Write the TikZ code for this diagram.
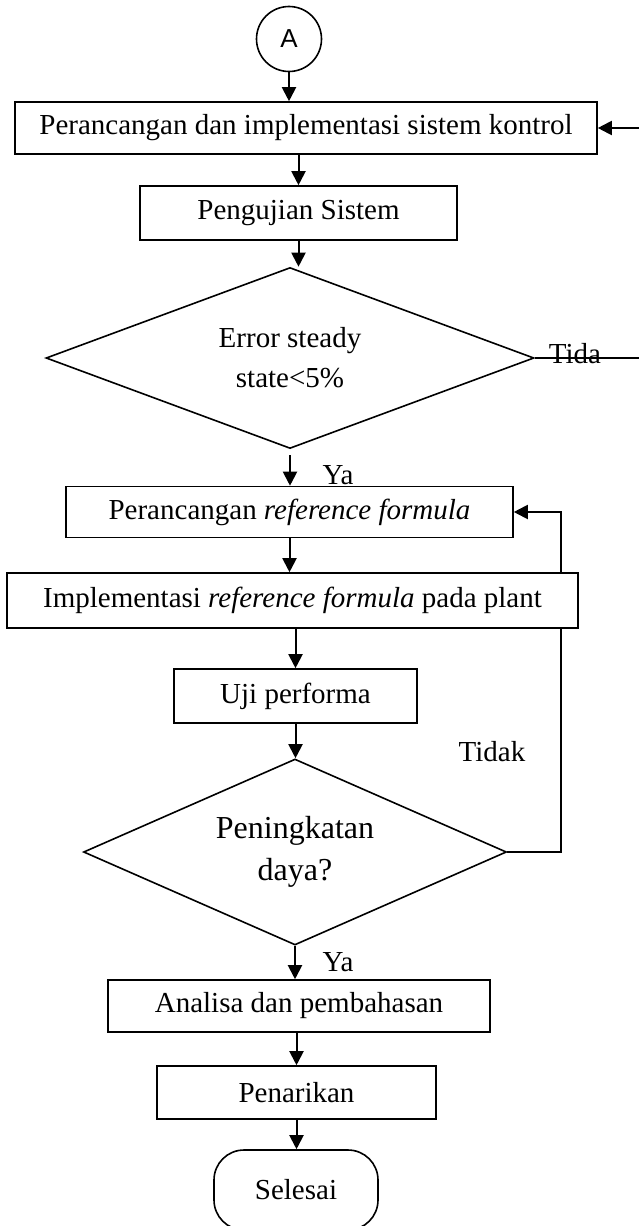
\documentclass[tikz,border=0pt]{standalone}
\usepackage{fontspec}
\setmainfont{Liberation Serif}
\newfontfamily\labelsans{Liberation Sans}
\usepackage{tikz}
\usetikzlibrary{positioning,shapes.geometric,arrows.meta,backgrounds}
\tikzset{
    flowbox/.style={rectangle, draw=black, line width=0.8pt, fill=white, inner sep=0pt, font=\fontsize{14.5}{17}\selectfont},
    flowarrow/.style={draw=black, line width=1pt, -{Triangle[length=7pt,width=7pt]}}
}

\begin{document}
\begin{tikzpicture}[
        x=0.5pt, y=-0.5pt,
        % Kiểu cho nút quyết định
        decision/.style={
            diamond,
            draw=black,
            line width=0.8pt,
            fill=white,
            inner sep=0pt,
            align=center
        },
        connector/.style={circle, draw=black, line width=0.8pt, fill=white, minimum size=32.5pt, inner sep=0pt, font=\labelsans\fontsize{13}{15}\selectfont},
        terminal/.style={rectangle, rounded corners=15pt, draw=black, line width=0.8pt, fill=white, minimum width=82pt, minimum height=40pt, font=\fontsize{14.5}{17}\selectfont},
        answer/.style={inner sep=0pt, font=\fontsize{14.5}{17}\selectfont}
    ]
        \useasboundingbox (0,0) rectangle (638,1226);

        % --- CÁC NÚT ---
        \node[connector] (mulai) at (289,39) {A};
        \node[flowbox, minimum width=291pt, minimum height=26pt] (rancang) at (306,128) {Perancangan dan implementasi sistem kontrol};
        \node[flowbox, minimum width=158.5pt, minimum height=27pt] (uji) at (298.5,213) {Pengujian Sistem};
        \node[decision, aspect=2.7, minimum width=244pt, minimum height=90.5pt, font=\fontsize{14.5}{20}\selectfont] (errss) at (290,358) {Error steady\\state<5\%};
        \node[flowbox, minimum width=223.5pt, minimum height=25.5pt] (refrancang) at (289.5,512) {Perancangan \textit{reference formula}};
        \node[flowbox, minimum width=285.5pt, minimum height=27.5pt] (refimpl) at (292.5,600.5) {Implementasi \textit{reference formula} pada plant};
        \node[flowbox, minimum width=121.5pt, minimum height=27pt] (performa) at (295.5,696) {Uji performa};
        \node[decision, aspect=2.27, minimum width=211.5pt, minimum height=93pt, font=\fontsize{16}{21}\selectfont] (daya) at (295,852) {Peningkatan\\daya?};
        \node[flowbox, minimum width=191pt, minimum height=26pt] (analisa) at (299,1006) {Analisa dan pembahasan};
        \node[flowbox, minimum width=139.5pt, minimum height=26.5pt] (tarik) at (296.5,1092.5) {Penarikan};
        \node[terminal] (selesai) at (296,1190) {Selesai};

        % Nhãn của nhánh
        \node[answer] (ya1) at (338,475) {Ya};
        \node[answer] (tida) at (575,354) {Tida};
        \node[answer] (tidak) at (492,752) {Tidak};
        \node[answer] (ya2) at (338,962) {Ya};

        % Điểm gãy của đường quay lại
        \coordinate (balikA) at (650,358);
        \coordinate (balikB) at (561,852);

        % --- VẼ MŨI TÊN ---
        \begin{scope}[on background layer]
            \draw[flowarrow] (mulai) -- (mulai |- rancang.north);
            \draw[flowarrow] (rancang.south -| uji) -- (uji.north);
            \draw[flowarrow] (uji) -- (uji |- errss.north);
            \draw[flowarrow] ([yshift=-3pt]errss.south) -- (errss |- refrancang.north);
            \draw[flowarrow] (refrancang) -- (refrancang |- refimpl.north);
            \draw[flowarrow] (refimpl.south -| performa) -- (performa.north);
            \draw[flowarrow] (performa) -- (performa |- daya.north);
            \draw[flowarrow] (daya) -- (daya |- analisa.north);
            \draw[flowarrow] (analisa.south -| tarik) -- (tarik.north);
            \draw[flowarrow] (tarik) -- (tarik |- selesai.north);
            % Nhánh "Tida" và "Tidak"
            \draw[flowarrow] (errss.east) -- (balikA) |- (rancang.east);
            \draw[flowarrow] (daya.east) -- (balikB) |- (refrancang.east);
        \end{scope}
    \end{tikzpicture}
\end{document}
